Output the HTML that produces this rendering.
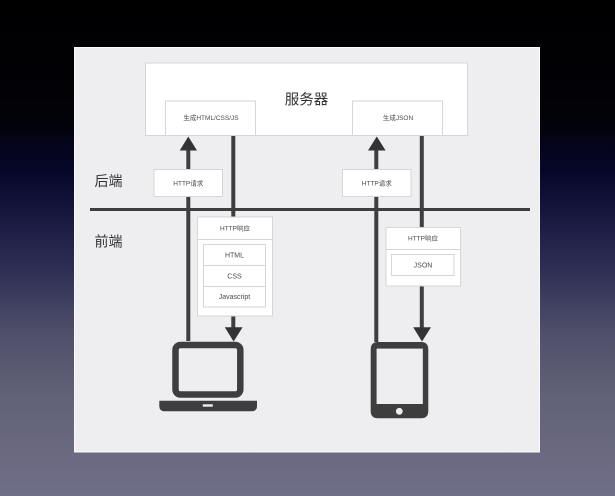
<!DOCTYPE html>
<html lang="zh">
<head>
<meta charset="utf-8">
<title>前后端示意图</title>
<style>
html,body{margin:0;padding:0;width:615px;height:496px;overflow:hidden;background:#000}
svg{display:block}
text{font-family:"Liberation Sans","Noto Sans CJK SC",sans-serif;text-anchor:middle;fill:#444}
.s{font-size:6.5px;fill:#4a4a4a}
.i{font-size:7px;fill:#4a4a4a}
.l{font-size:14px;fill:#333}
.b{fill:#fff;stroke:#d6d6d6;stroke-width:1}
.w{stroke:#3e3e3e;stroke-width:4;fill:none}
.h{fill:#333}
</style>
</head>
<body>
<svg width="615" height="496" viewBox="0 0 615 496" xmlns="http://www.w3.org/2000/svg">
<defs>
<linearGradient id="bg" x1="0" y1="0" x2="0" y2="1">
<stop offset="0" stop-color="#000"/>
<stop offset=".24" stop-color="#020208"/>
<stop offset=".34" stop-color="#06062a"/>
<stop offset=".46" stop-color="#1c1c45"/>
<stop offset=".57" stop-color="#35355a"/>
<stop offset=".67" stop-color="#4f4f6a"/>
<stop offset=".81" stop-color="#626278"/>
<stop offset="1" stop-color="#706f88"/>
</linearGradient>
</defs>
<rect width="615" height="496" fill="url(#bg)"/>
<rect x="74.5" y="47.5" width="465" height="404.5" fill="#eeeef0" stroke="#fafafa" stroke-width="1"/>

<rect class="b" x="145.5" y="63" width="322" height="72.5"/>
<rect class="b" x="165.5" y="101" width="90" height="34.5"/>
<rect class="b" x="352.5" y="101" width="90" height="34.5"/>
<text x="306.5" y="104.7" style="font-size:14.5px;fill:#333">服务器</text>
<text class="s" x="211" y="120">生成HTML/CSS/JS</text>
<text class="s" x="398" y="120">生成JSON</text>

<path class="w" d="M188.3 150V341"/>
<path class="w" d="M233.3 136V328"/>
<path class="w" d="M376.3 150V342"/>
<path class="w" d="M421.8 136V328"/>
<rect x="90" y="208" width="440" height="3" fill="#3e3e3e"/>

<path class="h" d="M188.3 136.5L197 150.5H179.7Z"/>
<path class="h" d="M376.8 136.5L385.6 150.5H368Z"/>
<path class="h" d="M233.6 341.5L242.6 327.3H224.8Z"/>
<path class="h" d="M422 341.5L431 327.3H413.2Z"/>

<rect class="b" x="154" y="169.5" width="68.5" height="27"/>
<rect class="b" x="342.5" y="169.5" width="68.5" height="27"/>
<text class="s" x="188.3" y="185.3">HTTP请求</text>
<text class="s" x="376.8" y="185.3">HTTP请求</text>

<text class="l" x="108.5" y="186">后端</text>
<text class="l" x="108.5" y="246.5">前端</text>

<rect class="b" x="197.5" y="217" width="75" height="99"/>
<path d="M197.5 239.5H272.5" stroke="#d6d6d6" fill="none"/>
<text class="s" x="235" y="230.3">HTTP响应</text>
<rect class="b" x="203.5" y="244.5" width="62" height="62.5"/>
<path d="M203.5 265.5H265.5M203.5 286.5H265.5" stroke="#d6d6d6" fill="none"/>
<text class="i" x="234.5" y="257.5">HTML</text>
<text class="i" x="234.5" y="278.5">CSS</text>
<text class="i" x="234.5" y="299">Javascript</text>

<rect class="b" x="386" y="227.5" width="74.5" height="58.5"/>
<path d="M386 249.5H460.5" stroke="#d6d6d6" fill="none"/>
<text class="s" x="423" y="240.3">HTTP响应</text>
<rect class="b" x="391.5" y="254.5" width="62.5" height="21"/>
<text class="i" x="423" y="267.5">JSON</text>

<rect x="175.5" y="345" width="64.8" height="49.5" rx="5" fill="none" stroke="#3e3e3e" stroke-width="6.5"/>
<path d="M159.3 400.7H257V406Q257 411.3 251.5 411.3H165Q159.3 411.3 159.3 406Z" fill="#3e3e3e"/>
<rect x="202.8" y="404.3" width="10" height="2.4" fill="#eeeef0"/>

<path fill-rule="evenodd" fill="#3e3e3e" d="M378 342H421Q428.3 342 428.3 349.5V411Q428.3 418.3 421 418.3H378Q370.7 418.3 370.7 411V349.5Q370.7 342 378 342ZM376.7 348.7V404H422.7V348.7Z"/>
<rect x="376.7" y="348.7" width="46" height="55.3" fill="#eeeef0"/>
<circle cx="399.3" cy="411.3" r="3.4" fill="#eeeef0"/>
</svg>
</body>
</html>
